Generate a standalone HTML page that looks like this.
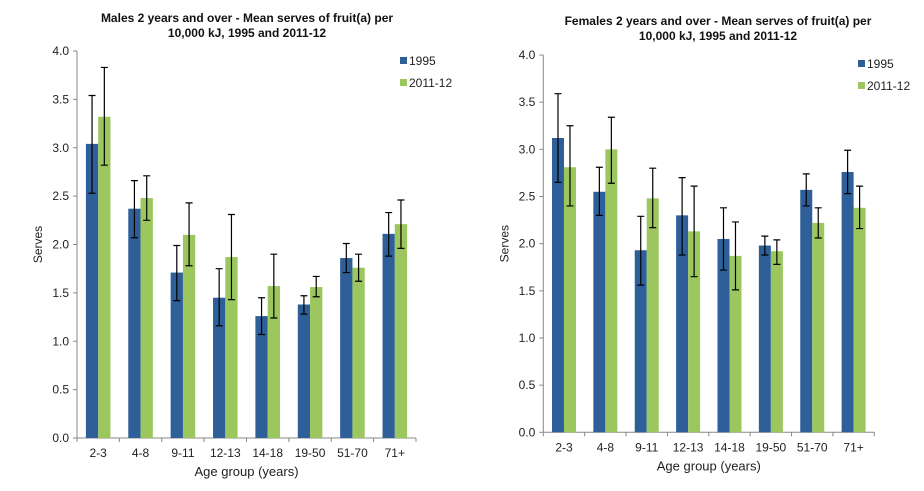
<!DOCTYPE html>
<html><head><style>body{margin:0;background:#fff}svg{display:block;font-family:"Liberation Sans",Arial,sans-serif}</style></head>
<body>
<svg id="s" width="924" height="491" xmlns="http://www.w3.org/2000/svg"></svg>
<script>
const s=document.getElementById('s');let h='';
const cats=['2-3','4-8','9-11','12-13','14-18','19-50','51-70','71+'];
function chart(c){
 const {x0,x1,y0,y4,title,cx,ty,b,g,leg}=c;const k=(y0-y4)/4,cw=(x1-x0)/8,bw=cw*0.29;
 h+=`<text x="${cx}" y="${ty}" text-anchor="middle" font-size="12" font-weight="bold" fill="#111">${title[0]}</text>`;
 h+=`<text x="${cx}" y="${ty+15}" text-anchor="middle" font-size="12" font-weight="bold" fill="#111">${title[1]}</text>`;
 h+=`<line x1="${x0}" y1="${y4}" x2="${x0}" y2="${y0}" stroke="#888"/><line x1="${x0}" y1="${y0}" x2="${x1}" y2="${y0}" stroke="#888"/>`;
 for(let i=0;i<=8;i++){const v=i/2,y=y0-v*k;h+=`<line x1="${x0-4}" y1="${y}" x2="${x0}" y2="${y}" stroke="#888"/><text x="${x0-8}" y="${y+4}" text-anchor="end" font-size="12" fill="#222">${v.toFixed(1)}</text>`;}
 for(let i=0;i<=8;i++){const x=x0+i*cw;h+=`<line x1="${x}" y1="${y0}" x2="${x}" y2="${y0+4}" stroke="#888"/>`;}
 cats.forEach((t,i)=>{const m=x0+cw*(i+0.5);
  [[b,'#2E5F98',-bw],[g,'#9BC75E',0]].forEach(([d,col,off])=>{const [v,lo,hi]=d[i];const x=m+off;
   h+=`<rect x="${x}" y="${y0-v*k}" width="${bw}" height="${v*k}" fill="${col}"/>`;
   const ex=x+bw/2;h+=`<path d="M${ex} ${y0-hi*k}V${y0-lo*k}M${ex-3.5} ${y0-hi*k}h7M${ex-3.5} ${y0-lo*k}h7" stroke="#000" stroke-width="1.2" fill="none"/>`;});
  h+=`<text x="${m}" y="${y0+19}" text-anchor="middle" font-size="12" fill="#222">${t}</text>`;});
 h+=`<text x="${(x0+x1)/2}" y="${y0+38}" text-anchor="middle" font-size="13" fill="#222">Age group (years)</text>`;
 const ym=(y0+y4)/2;h+=`<text transform="translate(${x0-35},${ym}) rotate(-90)" text-anchor="middle" font-size="12" fill="#222">Serves</text>`;
 h+=`<rect x="${leg[0]}" y="${leg[1]-4}" width="7" height="7" fill="#2E5F98"/><text x="${leg[0]+9}" y="${leg[1]+4}" font-size="12" fill="#222">1995</text>`;
 h+=`<rect x="${leg[0]}" y="${leg[1]+18}" width="7" height="7" fill="#9BC75E"/><text x="${leg[0]+9}" y="${leg[1]+26}" font-size="12" fill="#222">2011-12</text>`;
}
chart({x0:77,x1:416,y0:438,y4:51,cx:247,ty:22,title:['Males 2 years and over - Mean serves  of fruit(a)  per','10,000  kJ,  1995 and 2011-12'],
 b:[[3.04,2.53,3.54],[2.37,2.07,2.66],[1.71,1.42,1.99],[1.45,1.16,1.75],[1.26,1.07,1.45],[1.38,1.28,1.47],[1.86,1.71,2.01],[2.11,1.88,2.33]],
 g:[[3.32,2.82,3.83],[2.48,2.25,2.71],[2.10,1.78,2.43],[1.87,1.43,2.31],[1.57,1.24,1.90],[1.56,1.46,1.67],[1.76,1.62,1.90],[2.21,1.96,2.46]],leg:[400,61]});
chart({x0:543.3,x1:874.3,y0:432.3,y4:55,cx:718,ty:25,title:['Females 2 years and over - Mean serves  of fruit(a)  per','10,000  kJ,  1995 and 2011-12'],
 b:[[3.12,2.65,3.59],[2.55,2.30,2.81],[1.93,1.56,2.29],[2.30,1.88,2.70],[2.05,1.72,2.38],[1.98,1.88,2.08],[2.57,2.40,2.74],[2.76,2.53,2.99]],
 g:[[2.81,2.40,3.25],[3.00,2.64,3.34],[2.48,2.17,2.80],[2.13,1.65,2.61],[1.87,1.51,2.23],[1.92,1.78,2.04],[2.22,2.06,2.38],[2.38,2.16,2.61]],leg:[858,64]});
s.innerHTML=h;
</script>
</body></html>
